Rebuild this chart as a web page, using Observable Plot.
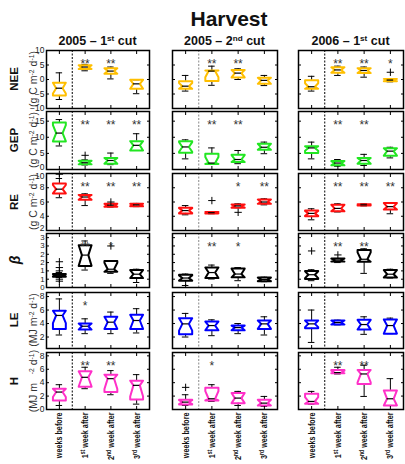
<!DOCTYPE html>
<html><head><meta charset="utf-8">
<script src="https://cdn.jsdelivr.net/npm/d3@7"></script>
<script src="https://cdn.jsdelivr.net/npm/@observablehq/plot@0.6"></script>
<style>
body{margin:0;background:#fff;}
#chart{position:relative;width:405px;height:464px;overflow:hidden;font-family:"Liberation Sans",Arial,sans-serif;background:#fff;}
.abs{position:absolute;white-space:nowrap;line-height:1;}
.rot{transform:translate(-50%,-50%) rotate(-90deg);}
sup{font-size:65%;line-height:0;vertical-align:0.45em;}
svg{position:absolute;}
</style></head><body><div id="chart"></div>
<script>
// ---------- DATA ----------
const title = "Harvest";
const cuts = ["2005 – 1st cut", "2005 – 2nd cut", "2006 – 1st cut"];
const periods = ["weeks before", "1st week after", "2nd week after", "3rd week after"];
const varNames = ["NEE", "GEP", "RE", "β", "LE", "H"];
const varUnits = ["(g C m^-2 d^-1)", "(g C m^-2 d^-1)", "(g C m^-2 d^-1)", "", "(MJ m^-2 d^-1)", "(MJ m   ^-2 d^-1)"];
const nObs = [14, 7, 7, 7]; // days per period (for notch width)

// boxes: [cut][period] = [whiskerLow, q1, median, q3, whiskerHigh]
const NEE_box = [
  [[-6.9,-5.5,-3.0,-1.1,2.3],[3.0,3.6,4.3,4.9,5.2],[0.2,2.0,2.9,3.9,4.3],[-4.9,-3.2,-1.5,-0.1,-0.1]],
  [[-4.0,-3.2,-2.3,-0.6,1.4],[-2.0,-0.5,2.9,3.1,4.6],[0.0,0.7,2.2,3.3,3.7],[-2.1,-1.5,-0.3,0.6,1.4]],
  [[-4.0,-3.2,-2.5,-0.3,1.1],[1.4,2.3,3.3,4.2,4.6],[0.8,2.2,3.1,3.9,4.3],[-0.8,-0.6,-0.2,0.2,0.3]]
];
const NEE_out = [[[],[],[],[]],[[],[],[],[]],[[],[],[],[2.5]]];
const NEE_sig = [["","**","**",""],["","**","**",""],["","**","**","*"]];

const GEP_box = [
  [[7.3,8.7,11.3,14.6,15.5],[1.4,1.6,2.1,2.7,3.0],[1.5,1.8,2.8,3.6,5.1],[5.9,5.9,7.5,8.8,11.1]],
  [[3.3,5.2,7.0,8.8,9.2],[1.7,1.7,2.0,4.9,6.7],[1.8,2.3,3.1,4.6,5.9],[4.9,6.1,6.9,8.0,8.5]],
  [[3.3,5.1,6.7,7.2,8.5],[1.0,1.3,2.0,2.6,3.1],[1.25,1.8,2.8,3.6,4.7],[3.6,4.3,5.7,6.6,6.9]]
];
const GEP_out = [[[],[4.4],[],[]],[[],[],[],[]],[[],[],[],[]]];
const GEP_sig = [["","**","**","**"],["","**","**",""],["","**","**",""]];

const RE_box = [
  [[6.6,7.2,7.8,8.6,9.3],[5.5,6.3,6.7,7.0,7.15],[5.3,5.35,5.55,5.75,5.8],[5.35,5.4,5.6,5.75,5.8]],
  [[4.2,4.4,4.8,5.2,5.5],[4.35,4.4,4.5,4.6,4.65],[5.2,5.2,5.45,5.65,5.75],[5.6,5.75,6.0,6.35,6.45]],
  [[3.5,4.0,4.4,4.8,5.05],[4.6,4.7,5.1,5.6,5.75],[5.45,5.5,5.6,5.7,5.75],[4.35,4.95,5.35,5.85,5.9]]
];
const RE_out = [[[9.9],[],[6.0],[]],[[],[6.2],[4.55],[]],[[],[],[],[]]];
const RE_sig = [["","**","**","**"],["","","*","**"],["","**","**","**"]];

const BETA_box = [
  [[0.6,0.65,0.73,0.81,0.9],[1.05,1.3,1.95,2.55,2.8],[0.85,0.95,1.1,1.6,1.6],[0.3,0.57,0.8,1.05,1.1]],
  [[0.12,0.41,0.57,0.77,0.81],[0.51,0.57,0.9,1.2,1.35],[0.41,0.61,0.81,1.15,1.2],[0.35,0.38,0.48,0.6,0.62]],
  [[0.41,0.51,0.77,1.0,1.07],[1.5,1.56,1.65,1.74,1.75],[0.85,1.55,1.7,2.25,2.33],[0.57,0.6,0.8,1.05,1.1]]
];
const BETA_out = [[[1.55,1.2,1.0,0.5,0.38],[],[2.5],[]],[[],[],[],[]],[[2.2],[1.96],[],[]]];
const BETA_sig = [["","**","*",""],["","**","*",""],["","**","**",""]];

const LE_box = [
  [[2.3,3.2,5.2,5.9,7.65],[2.5,3.1,3.6,4.0,4.7],[2.5,3.2,4.2,5.0,5.7],[2.6,3.2,4.45,5.3,6.2]],
  [[2.0,2.4,3.95,4.8,5.5],[2.2,3.0,3.7,4.3,4.55],[2.5,3.0,3.4,3.7,4.0],[2.3,3.2,3.95,4.45,5.0]],
  [[1.2,3.3,3.95,4.45,6.0],[3.8,3.85,4.15,4.45,4.5],[2.4,3.1,3.85,4.55,5.0],[2.5,2.5,3.7,4.6,4.8]]
];
const LE_out = [[[],[],[],[]],[[],[],[],[]],[[],[],[],[]]];
const LE_sig = [["","*","",""],["","","",""],["","","",""]];

const H_box = [
  [[0.6,1.35,2.6,3.1,3.7],[3.1,3.4,4.8,5.7,6.3],[2.2,2.6,4.6,5.2,5.8],[0.8,1.5,3.6,4.3,5.2]],
  [[0.6,0.75,1.1,1.45,2.2],[1.2,1.35,1.6,3.25,3.7],[0.6,0.95,1.7,2.45,2.7],[0.45,0.6,0.95,1.45,1.95]],
  [[0.8,0.85,1.2,2.35,2.7],[5.3,5.4,5.5,5.9,6.3],[1.95,3.8,5.3,5.9,6.6],[0.6,0.6,1.6,2.85,4.6]]
];
const H_out = [[[],[],[],[]],[[3.3],[],[],[]],[[],[],[],[]]];
const H_sig = [["","**","**",""],["","*","",""],["","**","**",""]];

const yDomains = [[-10,10],[0,18],[2,10],[0,3.25],[0.3,8.6],[0,8.5]];
const yTicks = [[-10,-5,0,5,10],[0,5,10,15],[2,4,6,8,10],[0,0.5,1,1.5,2,2.5,3],[2,4,6,8],[0,2,4,6,8]];
const xTicks = [1,2,3,4];

// ---------- STYLE / LAYOUT ----------
const colors = ["#ffbf00","#22e622","#ff1010","#000000","#0000ff","#ff30c8"];
const colLeft = [46,172,298], colWidth = [103,105,105];
const rowTop = [50,111,173,233,292,352], rowHeight = [58,58,57,54,56,57];
const edgeLabelDy = [[0,0],[-2.5,0],[-2,2.5],[0,0],[0,0],[0,0]]; // [bottom, top] label nudges

const boxSets = [NEE_box, GEP_box, RE_box, BETA_box, LE_box, H_box];
const outSets = [NEE_out, GEP_out, RE_out, BETA_out, LE_out, H_out];
const sigSets = [NEE_sig, GEP_sig, RE_sig, BETA_sig, LE_sig, H_sig];

const chart = document.getElementById("chart");
const supify = s => s.replace(/(\d)(st|nd|rd)\b/g, "$1<sup>$2</sup>").replace(/\^(-\d)/g, "<sup>$1</sup>");
function addDiv(html, css, cls) {
  const d = document.createElement("div");
  d.className = "abs " + (cls || "");
  d.innerHTML = html;
  Object.assign(d.style, css);
  chart.appendChild(d);
  return d;
}

addDiv(title, {left:"229px", top:"18px", transform:"translate(-50%,-50%)", fontSize:"21px", fontWeight:"bold", color:"#111"});
cuts.forEach((t, c) => addDiv(supify(t), {left:(colLeft[c] + colWidth[c]/2) + "px", top:"41px", transform:"translate(-50%,-50%)", fontSize:"12.5px", fontWeight:"bold", color:"#111"}));
varNames.forEach((n, r) => {
  const cy = rowTop[r] + rowHeight[r]/2;
  addDiv(n, {left:"15px", top:cy + "px", fontSize: r===3 ? "14px" : "11.5px", fontWeight:"bold", fontStyle: r===3 ? "italic" : "normal", color:"#111"}, "rot");
  if (varUnits[r]) addDiv(supify(varUnits[r]).replace(/   /g, "&nbsp;&nbsp;&nbsp;"), {left:"33px", top:cy + "px", fontSize:"10.5px", color:"#333"}, "rot");
});

function buildPanel(r, c) {
  const W = 0.25, NW = 0.125;
  const data = boxSets[r][c].map(([lo,q1,med,q3,hi], i) => {
    const k = 1.57 / Math.sqrt(nObs[i]) * (q3 - q1);
    return {pos:i+1, lo, q1, med, q3, hi, nlo:Math.max(q1, med-k), nhi:Math.min(q3, med+k)};
  });
  const poly = data.flatMap(d => [
    [d.pos-W,d.q1],[d.pos-W,d.nlo],[d.pos-NW,d.med],[d.pos-W,d.nhi],[d.pos-W,d.q3],
    [d.pos+W,d.q3],[d.pos+W,d.nhi],[d.pos+NW,d.med],[d.pos+W,d.nlo],[d.pos+W,d.q1]
  ].map(([x,y]) => ({id:d.pos, x, y})));
  const outs = outSets[r][c].flatMap((vals, i) => vals.map(v => ({pos:i+1, v})));
  const sigs = sigSets[r][c].map((s, i) => ({pos:i+1, s})).filter(d => d.s);
  const ticks = yTicks[r];
  const [dMin, dMax] = yDomains[r];
  const marks = [
    Plot.ruleX([1.5], {stroke: c===1 ? "#888" : "#000", strokeDasharray:"2,1.5", strokeWidth:1}),
    Plot.ruleX(data, {x:"pos", y1:"q3", y2:"hi", stroke:"#000", strokeWidth:1}),
    Plot.ruleX(data, {x:"pos", y1:"lo", y2:"q1", stroke:"#000", strokeWidth:1}),
    Plot.ruleY(data, {y:"hi", x1:d => d.pos-NW, x2:d => d.pos+NW, stroke:"#000", strokeWidth:1}),
    Plot.ruleY(data, {y:"lo", x1:d => d.pos-NW, x2:d => d.pos+NW, stroke:"#000", strokeWidth:1}),
    Plot.line(poly, {x:"x", y:"y", z:"id", curve:"linear-closed", stroke:colors[r], strokeWidth:2}),
    Plot.ruleY(data, {y:"med", x1:d => d.pos-NW, x2:d => d.pos+NW, stroke:"#000", strokeWidth:1.2}),
    Plot.dot(outs, {x:"pos", y:"v", symbol:"plus", r:2.5, stroke:"#000", strokeWidth:1}),
    Plot.text(sigs, {x:"pos", frameAnchor:"top", text:"s", dy:9, fontSize:12, fill:"#333"}),
    Plot.axisX(xTicks, {anchor:"bottom", tickSize:-3, text:null, label:null, stroke:"#000"}),
    Plot.axisX(xTicks, {anchor:"top", tickSize:-3, text:null, label:null, stroke:"#000"}),
    Plot.axisY(ticks, {anchor:"left", tickSize:-3, text:null, label:null, stroke:"#000"}),
    Plot.axisY(ticks, {anchor:"right", tickSize:-3, text:null, label:null, stroke:"#000"}),
    Plot.frame({stroke:"#000", strokeWidth:1.5})
  ];
  if (c === 0) {
    const fs = r === 3 ? 7.8 : 8.5;
    const common = {anchor:"left", tickSize:0, tickPadding:2, label:null, fontSize:fs, fill:"#222"};
    const [bDy, tDy] = edgeLabelDy[r];
    const inner = ticks.filter(t => t !== dMin && t !== dMax);
    const top = ticks.filter(t => t === dMax), bottom = ticks.filter(t => t === dMin);
    marks.push(Plot.axisY(inner, common));
    if (top.length) marks.push(Plot.axisY(top, {...common, dy:tDy}));
    if (bottom.length) marks.push(Plot.axisY(bottom, {...common, dy:bDy}));
  }
  if (r === 5) marks.push(Plot.axisX(xTicks, {anchor:"bottom", tickSize:0, tickPadding:3, tickRotate:-90, tickFormat:i => periods[i-1], label:null, fontSize:9.5, fontWeight:"bold", fill:"#111"}));
  const ml = c === 0 ? 30 : 2, mr = 2, mt = 2, mb = r === 5 ? 60 : 2;
  const svg = Plot.plot({
    width: colWidth[c] + ml + mr, height: rowHeight[r] + mt + mb,
    marginLeft: ml, marginRight: mr, marginTop: mt, marginBottom: mb,
    x: {domain:[0.5,4.5]}, y: {domain:yDomains[r]},
    style: {fontFamily:'"Liberation Sans",Arial,sans-serif', background:"transparent", overflow:"visible"},
    marks
  });
  svg.style.left = (colLeft[c] - ml) + "px";
  svg.style.top = (rowTop[r] - mt) + "px";
  if (r === 5) {
    d3.select(svg).selectAll('g[aria-label="x-axis tick label"] text').each(function() {
      const t = d3.select(this);
      const s = t.text();
      const m = s.match(/^(\d)(st|nd|rd)(.*)$/);
      if (m) {
        t.text(null);
        t.append("tspan").text(m[1]);
        t.append("tspan").attr("font-size", "6.8").attr("dy", "-3").text(m[2]);
        t.append("tspan").attr("dy", "3").text(m[3]);
      }
      const tr = t.attr("transform") || "";
      t.attr("transform", tr + " scale(0.76,1)");
    });
  }
  chart.appendChild(svg);
}
for (let r = 0; r < 6; r++) for (let c = 0; c < 3; c++) buildPanel(r, c);
</script></body></html>
